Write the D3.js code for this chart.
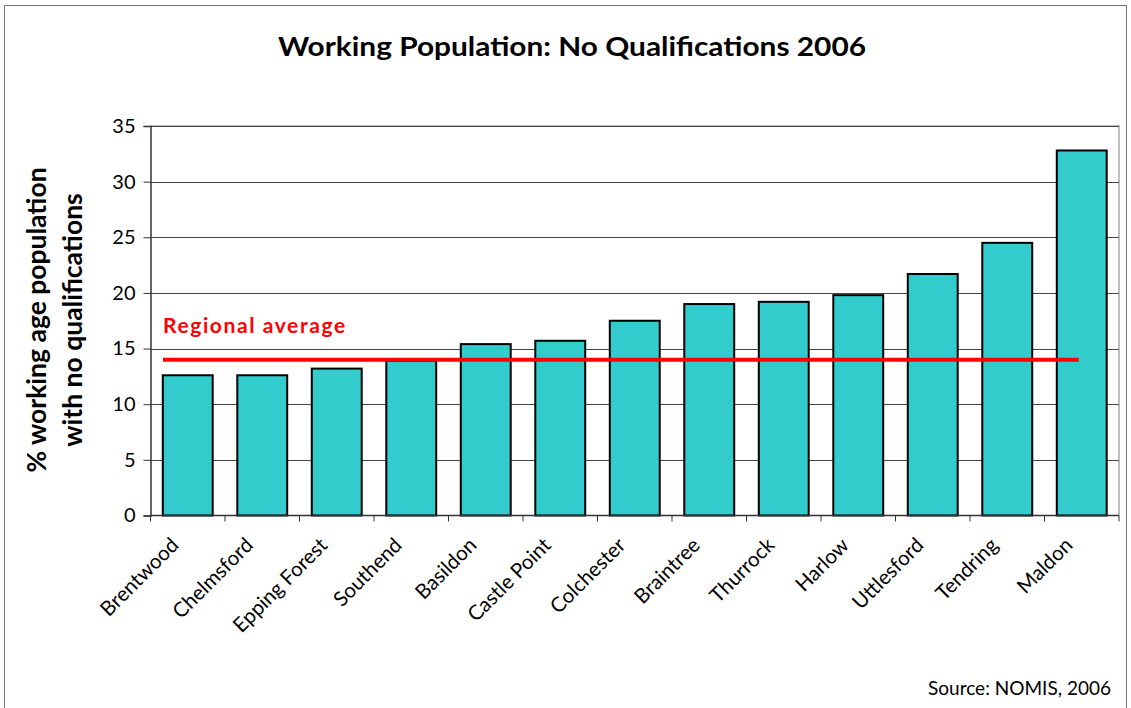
<!DOCTYPE html>
<html><head><meta charset="utf-8">
<script src="https://cdn.jsdelivr.net/npm/d3@7"></script>
<style>
body{margin:0;background:#fff;}
svg{display:block;font-family:"Lato",sans-serif;}
</style></head>
<body><svg id="c" width="1131" height="708"></svg>
<script>
const categories = ["Brentwood","Chelmsford","Epping Forest","Southend","Basildon","Castle Point","Colchester","Braintree","Thurrock","Harlow","Uttlesford","Tendring","Maldon"];
const values = [12.6,12.6,13.2,13.9,15.4,15.7,17.5,19.0,19.2,19.8,21.7,24.5,32.8];
const yTicks = [0,5,10,15,20,25,30,35];
const regionalAverage = 14.0;

const svg = d3.select("#c");
const m = {left:150.5, right:1119, top:126, bottom:515.5};

svg.append("rect").attr("x",4.5).attr("y",5.5).attr("width",1122).attr("height",710)
  .attr("fill","none").attr("stroke","#777").attr("stroke-width",1);

const x = d3.scaleBand().domain(categories).range([m.left,m.right]).paddingInner(0.33).paddingOuter(0.165);
const y = d3.scaleLinear().domain([0,35]).range([m.bottom,m.top]);

svg.append("path").attr("d",`M${m.left},${m.top}H${m.right}V${m.bottom}`).attr("fill","none").attr("stroke","#aaa").attr("stroke-width",1.5);

svg.append("g").selectAll("line").data(yTicks.filter(d=>d>0)).join("line")
  .attr("x1",m.left).attr("x2",m.right).attr("y1",d=>Math.round(y(d))+0.5).attr("y2",d=>Math.round(y(d))+0.5)
  .attr("stroke","#444").attr("stroke-width",1);

svg.append("g").selectAll("rect").data(values).join("rect")
  .attr("x",(d,i)=>x(categories[i])).attr("width",x.bandwidth())
  .attr("y",d=>y(d)).attr("height",d=>y(0)-y(d))
  .attr("fill","#33CCCC").attr("stroke","#000").attr("stroke-width",2);

const ya = svg.append("g").attr("transform",`translate(${m.left},0)`)
  .call(d3.axisLeft(y).tickValues(yTicks).tickSize(7).tickPadding(8));
ya.select(".domain").attr("stroke","#333").attr("stroke-width",1.5);
ya.selectAll(".tick line").attr("stroke","#333");
ya.selectAll("text").attr("font-size",20).attr("fill","#000").attr("font-family","Lato, sans-serif");

const xa = svg.append("g").attr("transform",`translate(0,${m.bottom})`);
xa.append("line").attr("x1",m.left).attr("x2",m.right).attr("stroke","#333").attr("stroke-width",1.5);
const bounds = categories.map(c=>x(c)-x.step()*x.paddingInner()/2).concat([m.right]);
xa.selectAll(".tk").data(bounds).join("line").attr("class","tk")
  .attr("x1",d=>d).attr("x2",d=>d).attr("y1",0).attr("y2",6).attr("stroke","#333");
xa.selectAll(".lbl").data(categories).join("text").attr("class","lbl")
  .attr("transform",d=>`translate(${x(d)+x.bandwidth()/2-8},${31}) rotate(-45)`)
  .attr("text-anchor","end").attr("font-size",20.5).attr("fill","#000")
  .attr("font-family","Lato, sans-serif").text(d=>d);

svg.append("line").attr("x1",163).attr("x2",x("Maldon")+x.bandwidth()*0.44).attr("y1",y(regionalAverage)).attr("y2",y(regionalAverage))
  .attr("stroke","#FF0000").attr("stroke-width",4);
svg.append("text").attr("x",163).attr("y",333).attr("fill","#FF0000").attr("font-size",21)
  .attr("font-weight","bold").attr("letter-spacing",1.6).attr("font-family","Lato, sans-serif").text("Regional average");

svg.append("text").attr("x",572).attr("y",56).attr("text-anchor","middle").attr("font-size",27)
  .attr("font-weight","bold").attr("textLength",588).attr("lengthAdjust","spacingAndGlyphs")
  .attr("font-family","Lato, sans-serif").attr("fill","#000").text("Working Population: No Qualifications 2006");

const yt = svg.append("text").attr("transform","translate(46,320) rotate(-90)").attr("text-anchor","middle")
  .attr("font-size",26.5).attr("font-weight","bold").attr("font-family","Lato, sans-serif").attr("fill","#000");
yt.append("tspan").attr("x",0).attr("dy",0).text("% working age population");
yt.append("tspan").attr("x",0).attr("dy",36).text("with no qualifications");

svg.append("text").attr("x",1111).attr("y",695).attr("text-anchor","end").attr("font-size",19)
  .attr("font-family","Lato, sans-serif").attr("fill","#000").text("Source: NOMIS, 2006");
</script></body></html>
